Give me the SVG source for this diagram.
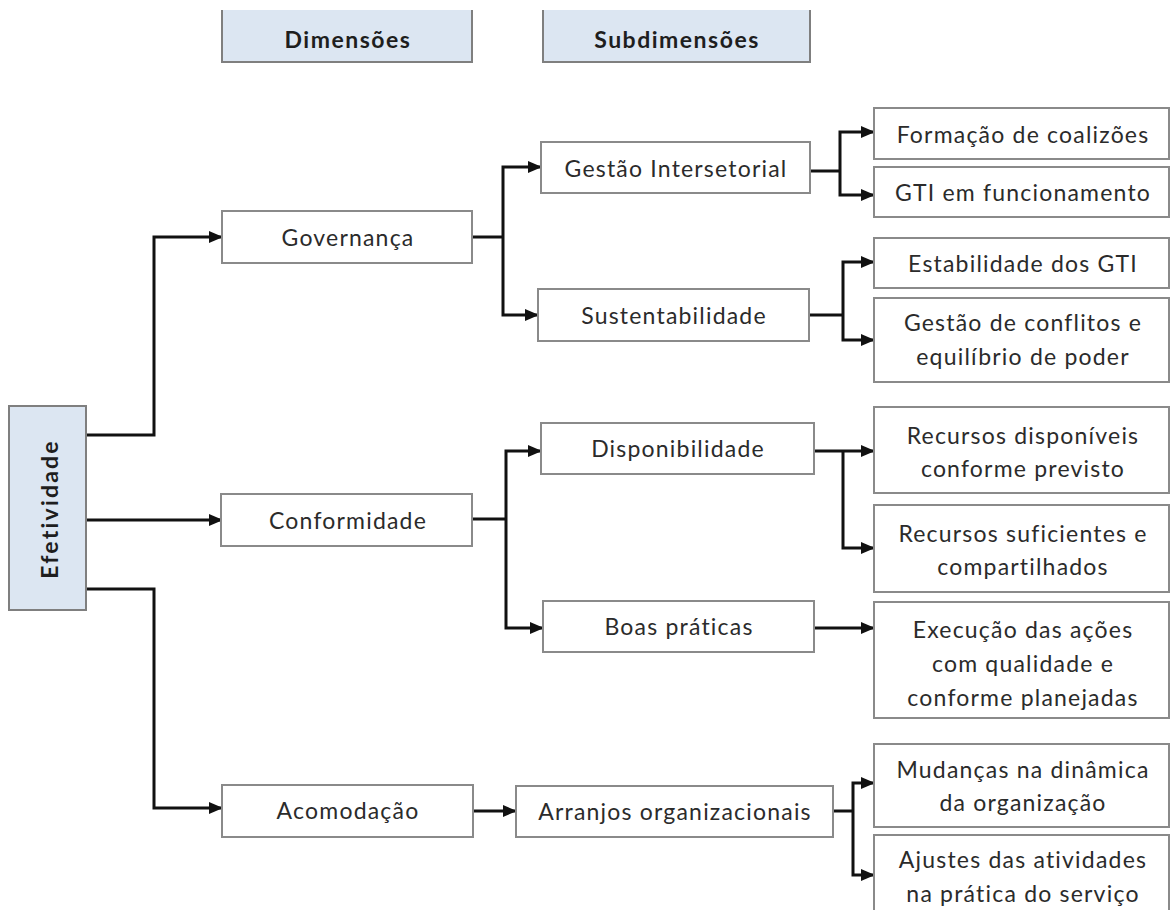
<svg xmlns="http://www.w3.org/2000/svg" width="1171" height="910" viewBox="0 0 1171 910">
  <style>
    .box { fill: #ffffff; stroke: #8a8a8a; stroke-width: 2; }
    .hdr { fill: #dce6f2; stroke: #7f7f7f; stroke-width: 2; }
    .t { font-family: Lato, "Liberation Sans", sans-serif; font-size: 23px; letter-spacing: 1.2px; fill: #2b2b2b; text-anchor: middle; }
    .b { font-weight: bold; fill: #1e1e1e; letter-spacing: 1.5px; }
    .c { fill: none; stroke: #111111; stroke-width: 3; }
    .ca { fill: none; stroke: #111111; stroke-width: 3; marker-end: url(#arr); }
  </style>
  <defs>
    <marker id="arr" markerUnits="userSpaceOnUse" markerWidth="14" markerHeight="14" refX="13" refY="7" orient="auto">
      <path d="M0,1 L14,7 L0,13 Z" fill="#111111"/>
    </marker>
  </defs>
  <rect width="1171" height="910" fill="#ffffff"/>

  <!-- column headers -->
  <g id="hdr-dimensoes">
    <rect x="222" y="10" width="250" height="52" fill="#dce6f2"/>
    <path d="M222,10 V62 H472 V10" fill="none" stroke="#7f7f7f" stroke-width="2"/>
    <text class="t b" x="348" y="48">Dimensões</text>
  </g>
  <g id="hdr-subdimensoes">
    <rect x="543" y="10" width="267" height="52" fill="#dce6f2"/>
    <path d="M543,10 V62 H810 V10" fill="none" stroke="#7f7f7f" stroke-width="2"/>
    <text class="t b" x="677" y="48">Subdimensões</text>
  </g>

  <!-- connectors -->
  <g id="connectors">
    <!-- Efetividade to dimensions -->
    <path class="ca" d="M86,435 H154 V237 H222"/>
    <path class="ca" d="M86,520 H222"/>
    <path class="ca" d="M86,589 H154 V808 H222"/>
    <!-- Governança -->
    <path class="c" d="M472,237 H503"/>
    <path class="ca" d="M503,237 V167 H541"/>
    <path class="ca" d="M503,237 V315 H538"/>
    <!-- Gestão Intersetorial -->
    <path class="c" d="M810,171 H840"/>
    <path class="ca" d="M840,171 V132 H874"/>
    <path class="ca" d="M840,171 V195 H874"/>
    <!-- Sustentabilidade -->
    <path class="c" d="M809,315 H843"/>
    <path class="ca" d="M843,315 V262 H874"/>
    <path class="ca" d="M843,315 V340 H874"/>
    <!-- Conformidade -->
    <path class="c" d="M472,519 H506"/>
    <path class="ca" d="M506,519 V451 H541"/>
    <path class="ca" d="M506,519 V628 H543"/>
    <!-- Disponibilidade -->
    <path class="ca" d="M814,451 H874"/>
    <path class="ca" d="M843,451 V548 H874"/>
    <!-- Boas práticas -->
    <path class="ca" d="M814,628 H874"/>
    <!-- Acomodação -->
    <path class="ca" d="M473,811 H516"/>
    <!-- Arranjos organizacionais -->
    <path class="c" d="M833,811 H853"/>
    <path class="ca" d="M853,811 V783 H874"/>
    <path class="ca" d="M853,811 V875 H874"/>
  </g>

  <!-- root -->
  <g id="efetividade">
    <rect class="hdr" x="9" y="406" width="77" height="204"/>
    <text class="t b" style="letter-spacing:2.2px" transform="translate(58,509) rotate(-90)" x="0" y="0">Efetividade</text>
  </g>

  <!-- dimensions -->
  <g id="governanca">
    <rect class="box" x="222" y="211" width="250" height="52"/>
    <text class="t" x="348" y="246">Governança</text>
  </g>
  <g id="conformidade">
    <rect class="box" x="221" y="494" width="251" height="52"/>
    <text class="t" x="348" y="529">Conformidade</text>
  </g>
  <g id="acomodacao">
    <rect class="box" x="222" y="785" width="251" height="52"/>
    <text class="t" x="348" y="819">Acomodação</text>
  </g>

  <!-- subdimensions -->
  <g id="gestao-intersetorial">
    <rect class="box" x="541" y="142" width="269" height="51"/>
    <text class="t" x="676" y="177">Gestão Intersetorial</text>
  </g>
  <g id="sustentabilidade">
    <rect class="box" x="538" y="289" width="271" height="52"/>
    <text class="t" x="674" y="324">Sustentabilidade</text>
  </g>
  <g id="disponibilidade">
    <rect class="box" x="541" y="423" width="273" height="51"/>
    <text class="t" x="678" y="457">Disponibilidade</text>
  </g>
  <g id="boas-praticas">
    <rect class="box" x="543" y="601" width="271" height="51"/>
    <text class="t" x="679" y="635">Boas práticas</text>
  </g>
  <g id="arranjos">
    <rect class="box" x="516" y="786" width="317" height="51"/>
    <text class="t" x="675" y="820">Arranjos organizacionais</text>
  </g>

  <!-- indicators -->
  <g id="formacao-coalizoes">
    <rect class="box" x="874" y="108" width="295" height="51"/>
    <text class="t" x="1023" y="143">Formação de coalizões</text>
  </g>
  <g id="gti-funcionamento">
    <rect class="box" x="874" y="167" width="295" height="50"/>
    <text class="t" x="1023" y="201">GTI em funcionamento</text>
  </g>
  <g id="estabilidade-gti">
    <rect class="box" x="874" y="238" width="295" height="50"/>
    <text class="t" x="1023" y="272">Estabilidade dos GTI</text>
  </g>
  <g id="gestao-conflitos">
    <rect class="box" x="874" y="298" width="295" height="84"/>
    <text class="t" x="1023" y="331">Gestão de conflitos e</text>
    <text class="t" x="1023" y="365">equilíbrio de poder</text>
  </g>
  <g id="recursos-disponiveis">
    <rect class="box" x="874" y="407" width="295" height="86"/>
    <text class="t" x="1023" y="444">Recursos disponíveis</text>
    <text class="t" x="1023" y="477">conforme previsto</text>
  </g>
  <g id="recursos-suficientes">
    <rect class="box" x="874" y="505" width="295" height="87"/>
    <text class="t" x="1023" y="542">Recursos suficientes e</text>
    <text class="t" x="1023" y="575">compartilhados</text>
  </g>
  <g id="execucao-acoes">
    <rect class="box" x="874" y="602" width="295" height="116"/>
    <text class="t" x="1023" y="638">Execução das ações</text>
    <text class="t" x="1023" y="672">com qualidade e</text>
    <text class="t" x="1023" y="706">conforme planejadas</text>
  </g>
  <g id="mudancas-dinamica">
    <rect class="box" x="874" y="744" width="295" height="83"/>
    <text class="t" x="1023" y="778">Mudanças na dinâmica</text>
    <text class="t" x="1023" y="811">da organização</text>
  </g>
  <g id="ajustes-atividades">
    <rect class="box" x="874" y="835" width="295" height="90"/>
    <text class="t" x="1023" y="868">Ajustes das atividades</text>
    <text class="t" x="1023" y="902">na prática do serviço</text>
  </g>
</svg>
